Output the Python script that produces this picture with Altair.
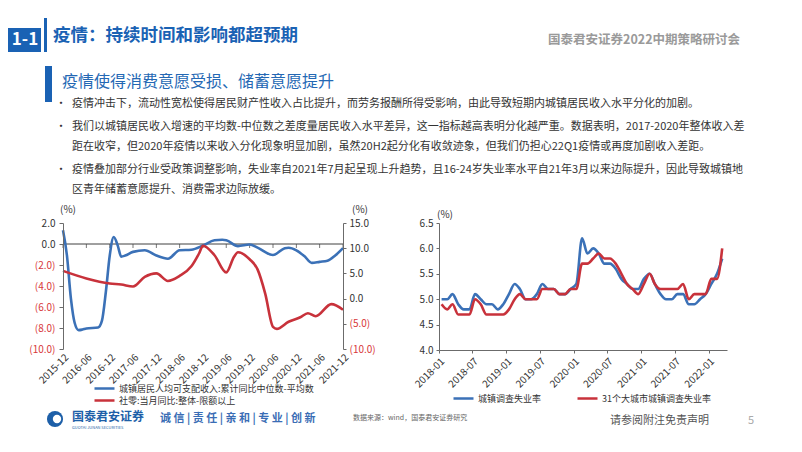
import altair as alt
import pandas as pd

FONT = "Noto Sans CJK SC"
BLUE = "#3b71b7"
RED = "#c8323b"
NEG = "#d8383a"
AX = "#6b6b6b"
TXT = "#333333"
HEAD = "#1a62b4"

# ---------------- left chart data ----------------
inc_month = ["2015-12", "2016-01", "2016-02", "2016-03", "2016-04", "2016-05", "2016-06",
             "2016-09", "2016-10", "2016-11", "2016-12", "2017-01", "2017-02", "2017-03",
             "2017-04", "2017-06", "2017-09", "2017-12", "2018-03", "2018-06", "2018-09",
             "2018-12", "2019-03", "2019-05", "2019-06", "2019-09", "2019-12", "2020-02",
             "2020-06", "2020-09", "2020-10", "2020-12", "2021-02", "2021-04", "2021-06",
             "2021-08", "2021-10", "2021-12"]
inc_value = [1.3, -1.1, -5.2, -7.5, -8.2, -8.15, -8.05,
             -7.95, -7.3, -4.5, -1.1, 0.66, -0.13, -1.2,
             -1.1, -0.75, -0.6, -1.1, -1.4, -0.6, -0.55,
             -0.15, 0.35, 0.4, 0.35, -0.2, -0.05, -0.35,
             -1.05, -0.4, -0.35, -0.6, -1.15, -1.8, -1.7,
             -1.6, -1.1, -0.4]

ret_month = ["2015-12", "2016-06", "2016-12", "2017-03", "2017-06", "2017-09", "2017-12",
             "2018-03", "2018-06", "2018-09", "2018-11", "2018-12", "2019-03", "2019-06",
             "2019-08", "2019-09", "2019-12", "2020-02", "2020-04", "2020-06", "2020-07",
             "2020-10", "2021-01", "2021-03", "2021-05", "2021-09", "2021-12"]
ret_value = [5.5, 4.0, 3.0, 2.8, 2.4, 4.3, 5.0,
             3.5, 4.5, 6.4, 9.0, 10.5, 8.6, 5.2,
             8.3, 9.2, 7.8, 5.8, 1.0, -5.6, -6.0,
             -4.6, -3.7, -2.9, -3.5, -1.1, -2.2]

left_ticks = ["2015-12", "2016-06", "2016-12", "2017-06", "2017-12", "2018-06", "2018-12",
              "2019-06", "2019-12", "2020-06", "2020-12", "2021-06", "2021-12"]
left_y_ticks = [-10, -8, -6, -4, -2, 0, 2]
right_y_ticks = [-10, -5, 0, 5, 10, 15]
left_series = ["城镇居民人均可支配收入:累计同比中位数-平均数", "社零:当月同比:整体-限额以上"]

# ---------------- right chart data ----------------
urban_rate = [5.0, 5.0, 5.1, 4.9, 4.8, 4.8, 5.1, 5.0, 4.9, 4.9, 4.8, 4.9,
              5.1, 5.3, 5.2, 5.0, 5.0, 5.1, 5.3, 5.2, 5.2, 5.1, 5.1, 5.2,
              5.3, 6.2, 5.9, 6.0, 5.9, 5.7, 5.7, 5.6, 5.4, 5.3, 5.2, 5.2,
              5.4, 5.5, 5.3, 5.1, 5.0, 5.0, 5.1, 5.1, 4.9, 4.9, 5.0, 5.1,
              5.3, 5.5, 5.8]
city31_rate = [4.9, 4.8, 4.9, 4.7, 4.7, 4.7, 5.0, 4.9, 4.7, 4.7, 4.7, 4.7,
               4.8, 5.0, 5.1, 5.0, 5.0, 5.0, 5.2, 5.2, 5.2, 5.1, 5.1, 5.2,
               5.2, 5.7, 5.7, 5.8, 5.9, 5.8, 5.8, 5.7, 5.5, 5.3, 5.2, 5.1,
               5.3, 5.5, 5.3, 5.2, 5.2, 5.2, 5.2, 5.3, 5.0, 5.1, 5.1, 5.1,
               5.4, 5.4, 6.0]
right_ticks = ["2018-01", "2018-07", "2019-01", "2019-07", "2020-01", "2020-07",
               "2021-01", "2021-07", "2022-01"]
right_y_vals = [4.0, 4.5, 5.0, 5.5, 6.0, 6.5]
right_series = ["城镇调查失业率", "31个大城市城镇调查失业率"]

# ---------------- header / footer texts ----------------
title_text = "疫情：持续时间和影响都超预期"
section_text = "疫情使得消费意愿受损、储蓄意愿提升"
brand_text = "国泰君安证券2022中期策略研讨会"
bullets = [
    "疫情冲击下，流动性宽松使得居民财产性收入占比提升，而劳务报酬所得受影响，由此导致短期内城镇居民收入水平分化的加剧。",
    "我们以城镇居民收入增速的平均数-中位数之差度量居民收入水平差异，这一指标越高表明分化越严重。数据表明，2017-2020年整体收入差",
    "距在收窄，但2020年疫情以来收入分化现象明显加剧，虽然20H2起分化有收敛迹象，但我们仍担心22Q1疫情或再度加剧收入差距。",
    "疫情叠加部分行业受政策调整影响，失业率自2021年7月起呈现上升趋势，且16-24岁失业率水平自21年3月以来边际提升，因此导致城镇地",
    "区青年储蓄意愿提升、消费需求边际放缓。",
]


def dt(s, day=1):
    y, m = s.split("-")
    return alt.DateTime(year=int(y), month=int(m), date=day)


def one(**kw):
    return alt.Data(values=[kw])


def txt(s, x, y, size, color=TXT, weight="normal", align="left"):
    return alt.Chart(one(t=s)).mark_text(
        align=align, baseline="middle", fontSize=size, color=color,
        fontWeight=weight, font=FONT
    ).encode(x=alt.value(x), y=alt.value(y), text="t:N")


def box(x, x2, y, y2, color, opacity=1):
    return alt.Chart(one(k=1)).mark_rect(color=color, opacity=opacity).encode(
        x=alt.value(x), x2=alt.value(x2), y=alt.value(y), y2=alt.value(y2))


def leg(x, y):
    return alt.Legend(orient="none", legendX=x, legendY=y, title=None,
                      symbolType="stroke", symbolSize=400, symbolStrokeWidth=2.5,
                      labelFont=FONT, labelFontSize=9, labelColor=TXT,
                      labelLimit=600, labelOffset=3, padding=0)


# ---------------- left chart ----------------
inc_df = pd.DataFrame({"date": pd.to_datetime(inc_month, format="%Y-%m"),
                       "v": inc_value, "s": left_series[0]})
ret_df = pd.DataFrame({"date": pd.to_datetime(ret_month, format="%Y-%m"),
                       "v": ret_value, "s": left_series[1]})
tick_df = pd.DataFrame({"date": pd.to_datetime(left_ticks, format="%Y-%m"), "v": 0})
zero_df = pd.DataFrame({"v": [0]})

xl = alt.X("date:T",
           scale=alt.Scale(domain=[dt(left_ticks[0]), dt(left_ticks[-1])], nice=False),
           axis=alt.Axis(values=[dt(s) for s in left_ticks], format="%Y-%m", labelAngle=-45,
                         domain=False, ticks=False, grid=False, title=None, labelPadding=3,
                         labelOverlap=False, labelFontSize=10, labelColor=TXT, zindex=1))

neg_expr = "datum.value < 0 ? '(' + format(-datum.value, '.1f') + ')' : format(datum.value, '.1f')"

yl = alt.Y("v:Q", scale=alt.Scale(domain=[-10, 2], nice=False, zero=False),
           axis=alt.Axis(orient="left", values=left_y_ticks, labelExpr=neg_expr,
                         labelColor={"condition": {"test": "datum.value < 0", "value": NEG},
                                     "value": TXT},
                         title=None, grid=False, domainColor=AX, tickColor=AX, tickSize=4,
                         labelPadding=4, labelFontSize=10, labelOverlap=False, zindex=1))
yr = alt.Y("v:Q", scale=alt.Scale(domain=[-10, 15], nice=False, zero=False),
           axis=alt.Axis(orient="right", values=right_y_ticks, labelExpr=neg_expr,
                         labelColor={"condition": {"test": "datum.value < 0", "value": NEG},
                                     "value": TXT},
                         title=None, grid=False, domainColor=AX, tickColor=AX, tickSize=3,
                         labelPadding=3, labelFontSize=10, labelOverlap=False, zindex=1))

blue_line = alt.Chart(inc_df).mark_line(strokeWidth=2.6, interpolate="monotone").encode(
    x=xl, y=yl,
    color=alt.Color("s:N", scale=alt.Scale(domain=[left_series[0]], range=[BLUE]),
                    legend=leg(30, 154)))
zero_rule = alt.Chart(zero_df).mark_rule(color="#404040", strokeWidth=1).encode(y=yl)
zero_ticks = alt.Chart(tick_df).mark_tick(orient="vertical", size=4, thickness=1,
                                          color="#404040", yOffset=2).encode(x=xl, y=yl)
red_line = alt.Chart(ret_df).mark_line(strokeWidth=2.6, interpolate="monotone").encode(
    x=xl, y=yr,
    color=alt.Color("s:N", scale=alt.Scale(domain=[left_series[1]], range=[RED]),
                    legend=leg(30, 166)))

bullet_rows = [-119, -96, -76, -53, -33]
bullet_dots = [-119, -96, -53]
deco = [
    box(-55, -22, -195, -171, HEAD),
    txt("1-1", -38, -183, 17, "white", "bold", "center"),
    box(-19, -16, -205, -171, HEAD),
    txt(title_text, -10, -187, 17.5, HEAD, "bold"),
    txt(brand_text, 485, -183, 12.5, "#9a9a9a", "bold"),
    box(-18, -11, -157, -121, HEAD),
    txt(section_text, -1, -141, 16, "#2468b4"),
]
deco += [txt(b, 9, yy, 11, TXT) for b, yy in zip(bullets, bullet_rows)]
deco += [txt("•", -2, yy, 11, TXT, "normal", "center") for yy in bullet_dots]
deco += [
    txt("(%)", -3, -13, 10),
    txt("(%)", 289, -13, 10),
    alt.Chart(one(k=1)).mark_point(shape="circle", filled=True, size=260, color="#1d5fa8",
                                   opacity=1).encode(x=alt.value(-8), y=alt.value(196)),
    alt.Chart(one(k=1)).mark_point(shape="circle", filled=True, size=70, color="white",
                                   opacity=1).encode(x=alt.value(-6), y=alt.value(196)),
    txt("国泰君安证券", 9, 194, 12, "#1d5fa8", "bold"),
    txt("GUOTAI JUNAN SECURITIES", 9, 205, 4, "#1d5fa8"),
    txt("诚 信 | 责 任 | 亲 和 | 专 业 | 创 新", 97, 196, 11, "#3a6db5", "bold"),
    txt("数据来源：wind，国泰君安证券研究", 290, 195, 7, "#666666"),
    txt("请参阅附注免责声明", 547, 198, 11, "#555555"),
    txt("5", 685, 198, 11, "#aaaaaa"),
]

left = alt.layer(
    box(-55, 731, -215, 221, "white", 0),
    alt.layer(zero_rule, zero_ticks, blue_line),
    red_line,
    *deco,
).resolve_scale(y="independent", color="independent").properties(width=280, height=126)

# ---------------- right chart ----------------
months = pd.date_range("2018-01-01", periods=len(urban_rate), freq="MS") + pd.Timedelta(days=14)
u_df = pd.DataFrame({"date": months, "v": urban_rate, "s": right_series[0]})
c_df = pd.DataFrame({"date": months, "v": city31_rate, "s": right_series[1]})

xr = alt.X("date:T",
           scale=alt.Scale(domain=[dt("2018-01"), dt("2022-04", 10)], nice=False),
           axis=alt.Axis(values=[dt(s) for s in right_ticks], format="%Y-%m", labelAngle=-45,
                         domain=True, domainColor=AX, ticks=True, tickColor=AX, tickSize=3,
                         grid=False, title=None, labelPadding=3, labelOverlap=False,
                         labelFontSize=10, labelColor=TXT, zindex=1))
yr2 = alt.Y("v:Q", scale=alt.Scale(domain=[4.0, 6.5], nice=False, zero=False),
            axis=alt.Axis(values=right_y_vals, format=".1f", title=None, grid=False,
                          domainColor=AX, tickColor=AX, tickSize=3, labelPadding=3,
                          labelFontSize=10, labelColor=TXT, labelOverlap=False, zindex=1))

u_line = alt.Chart(u_df).mark_line(strokeWidth=2.6, interpolate="monotone").encode(
    x=xr, y=yr2,
    color=alt.Color("s:N", scale=alt.Scale(domain=[right_series[0]], range=[BLUE]),
                    legend=leg(13, 164)))
c_line = alt.Chart(c_df).mark_line(strokeWidth=2.6, interpolate="monotone").encode(
    x=xr, y=yr2,
    color=alt.Color("s:N", scale=alt.Scale(domain=[right_series[1]], range=[RED]),
                    legend=leg(137, 164)))

right = alt.layer(u_line, c_line, txt("(%)", -2, -8, 10)).resolve_scale(
    color="independent").properties(width=288, height=127)

chart = alt.hconcat(left, right, spacing=96, bounds="flush").resolve_scale(
    x="independent", y="independent", color="independent"
).properties(padding=0, background="white").configure(font=FONT).configure_view(
    strokeWidth=0)

chart.save("out.html", embed_options={"renderer": "svg", "actions": False})
